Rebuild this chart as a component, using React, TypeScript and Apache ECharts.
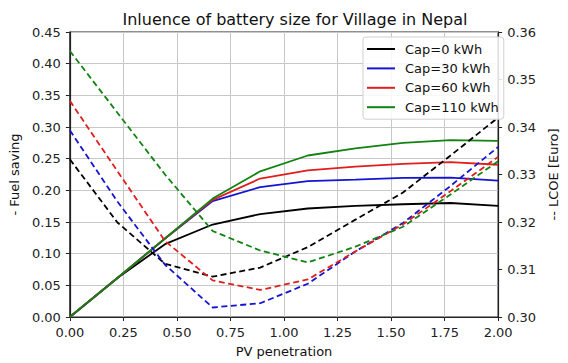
import React, { useEffect, useRef } from "react";
import * as echarts from "echarts";

const pvPenetration = [0, 0.2222, 0.4444, 0.6667, 0.8889, 1.1111, 1.3333, 1.5556, 1.7778, 2.0];

const capNames = ["Cap=0 kWh", "Cap=30 kWh", "Cap=60 kWh", "Cap=110 kWh"];
const capColors = ["#000000", "#1414d2", "#e01e1e", "#128212"];

const fuelCap0 = [0, 0.0615, 0.115, 0.146, 0.1625, 0.1713, 0.1755, 0.178, 0.18, 0.1755];
const fuelCap30 = [0, 0.0615, 0.124, 0.183, 0.2051, 0.2145, 0.217, 0.2196, 0.2201, 0.2154];
const fuelCap60 = [0, 0.0615, 0.124, 0.185, 0.2186, 0.2316, 0.2373, 0.2419, 0.2445, 0.2404];
const fuelCap110 = [0, 0.0615, 0.124, 0.187, 0.23, 0.255, 0.2662, 0.275, 0.2793, 0.278];

const lcoeCap0 = [0.3332, 0.3199, 0.3112, 0.3085, 0.3104, 0.3147, 0.3205, 0.3262, 0.334, 0.342];
const lcoeCap30 = [0.3393, 0.3243, 0.311, 0.302, 0.3029, 0.307, 0.3138, 0.3198, 0.3276, 0.3358];
const lcoeCap60 = [0.3455, 0.3307, 0.316, 0.3077, 0.3057, 0.3079, 0.3138, 0.3195, 0.3265, 0.3337];
const lcoeCap110 = [0.356, 0.343, 0.33, 0.3181, 0.314, 0.3115, 0.3148, 0.319, 0.3258, 0.3328];

const fuelSeries = [fuelCap0, fuelCap30, fuelCap60, fuelCap110];
const lcoeSeries = [lcoeCap0, lcoeCap30, lcoeCap60, lcoeCap110];

const FONT = "DejaVu Sans";

export default function App() {
  const ref = useRef<HTMLDivElement>(null);
  useEffect(() => {
    if (!ref.current) return;
    const chart = echarts.init(ref.current, null, { renderer: "svg" });
    const pair = (ys: number[]) => pvPenetration.map((x, i) => [x, ys[i]]);
    const series: any[] = [];
    fuelSeries.forEach((ys, k) => {
      series.push({
        name: capNames[k],
        type: "line",
        yAxisIndex: 0,
        data: pair(ys),
        symbol: "none",
        lineStyle: { color: capColors[k], width: 1.8 },
        itemStyle: { color: capColors[k] },
        z: 3,
      });
    });
    lcoeSeries.forEach((ys, k) => {
      series.push({
        name: "LCOE " + capNames[k],
        type: "line",
        yAxisIndex: 1,
        data: pair(ys),
        symbol: "none",
        lineStyle: { color: capColors[k], width: 1.8, type: [6, 3.5] },
        itemStyle: { color: capColors[k] },
        z: 3,
      });
    });
    const axisLabel = { color: "#222", fontFamily: FONT, fontSize: 13, margin: 9 };
    chart.setOption({
      animation: false,
      backgroundColor: "#ffffff",
      textStyle: { fontFamily: FONT },
      title: {
        text: "Inluence of battery size for Village in Nepal",
        left: 290,
        textAlign: "center",
        top: 6,
        textStyle: { fontFamily: FONT, fontSize: 16, fontWeight: "normal", color: "#111" },
      },
      grid: {
        left: 66.7,
        right: 54.7,
        top: 32,
        bottom: 42,
        show: true,
        borderColor: "#222",
        borderWidth: 1.2,
        backgroundColor: "transparent",
      },
      legend: {
        data: capNames,
        orient: "vertical",
        left: 363,
        top: 37,
        icon: "path://M0,0H28V2H0Z",
        itemWidth: 28,
        itemHeight: 14,
        itemGap: 5.4,
        padding: [5, 5, 5, 4],
        backgroundColor: "rgba(255,255,255,0.85)",
        borderColor: "#d0d0d0",
        borderWidth: 1,
        borderRadius: 3,
        textStyle: { fontFamily: FONT, fontSize: 13, color: "#111", lineHeight: 14, padding: [0, 0, 0, 5] },
      },
      xAxis: {
        type: "value",
        min: 0,
        max: 2,
        interval: 0.25,
        name: "PV penetration",
        nameLocation: "middle",
        nameGap: 28,
        nameTextStyle: { fontFamily: FONT, fontSize: 13, color: "#111" },
        axisLine: { show: true, lineStyle: { color: "#222", width: 1.2 } },
        axisTick: { show: true, length: 4, lineStyle: { color: "#222" } },
        axisLabel: { ...axisLabel, formatter: (v: number) => v.toFixed(2) },
        splitLine: { show: true, lineStyle: { color: "#c8c8c8", width: 1 } },
      },
      yAxis: [
        {
          type: "value",
          min: 0,
          max: 0.45,
          interval: 0.05,
          name: "- Fuel saving",
          nameLocation: "middle",
          nameRotate: 90,
          nameGap: 46,
          nameTextStyle: { fontFamily: FONT, fontSize: 13, color: "#111" },
          axisLine: { show: true, lineStyle: { color: "#222", width: 1.2 } },
          axisTick: { show: true, length: 4, lineStyle: { color: "#222" } },
          axisLabel: { ...axisLabel, formatter: (v: number) => v.toFixed(2) },
          splitLine: { show: true, lineStyle: { color: "#c8c8c8", width: 1 } },
        },
        {
          type: "value",
          position: "right",
          min: 0.3,
          max: 0.36,
          interval: 0.01,
          name: "-- LCOE [Euro]",
          nameLocation: "middle",
          nameRotate: 90,
          nameGap: 41,
          nameTextStyle: { fontFamily: FONT, fontSize: 13, color: "#111" },
          axisLine: { show: true, lineStyle: { color: "#222", width: 1.2 } },
          axisTick: { show: true, length: 4, lineStyle: { color: "#222" } },
          axisLabel: { ...axisLabel, formatter: (v: number) => v.toFixed(2) },
          splitLine: { show: false },
        },
      ],
      series,
    });
    return () => chart.dispose();
  }, []);
  return (
    <div
      ref={ref}
      style={{ position: "fixed", left: 0, top: 0, width: 568, height: 363, background: "#fff" }}
    />
  );
}
